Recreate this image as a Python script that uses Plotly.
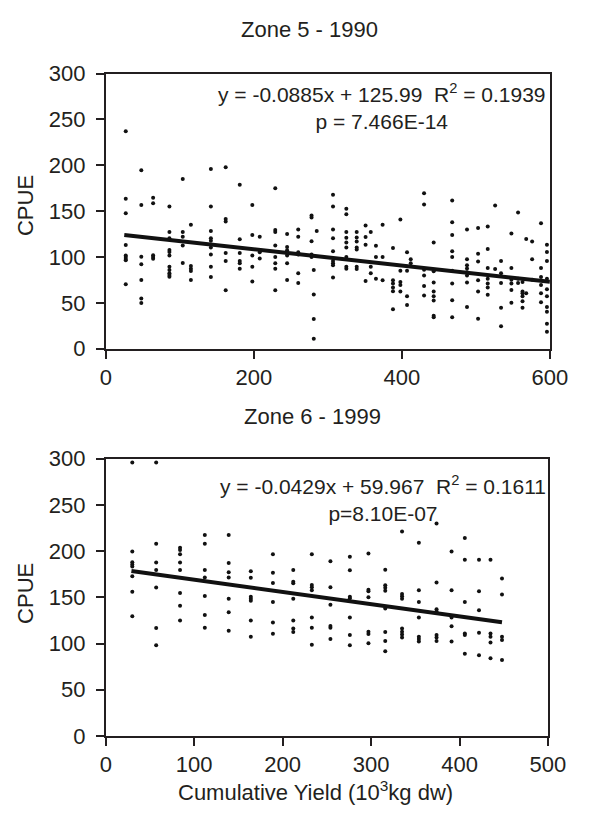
import plotly.graph_objects as go

# ---------------- data ----------------
zone5_col_x = [27, 48, 64, 86, 104, 115, 142, 162, 181, 198, 208, 229, 245, 260,
               278, 281, 285, 307, 325, 339, 351, 358, 365, 374, 388, 398, 407,
               412, 430, 443, 468, 488, 503, 516, 526, 534, 548, 557, 563, 568,
               576, 588, 596]
zone5_col_y = [
    [237.2, 163.4, 147.8, 113.0, 101.7, 99.9, 97.8, 96.4, 70.3],
    [194.6, 156.6, 100.3, 92.2, 75.0, 54.9, 50.0],
    [164.7, 158.7, 102.0, 99.9, 98.2],
    [155.2, 127.4, 120.4, 107.7, 105.6, 101.7, 89.3, 85.8, 82.4, 80.3, 78.5],
    [185.1, 127.4, 122.1, 112.6, 93.6],
    [135.2, 90.1, 87.2, 84.8, 75.0],
    [196.0, 155.2, 128.4, 120.4, 117.8, 110.5, 102.7, 89.3, 78.1],
    [197.8, 141.5, 138.6, 104.5, 95.6, 63.7],
    [178.8, 119.3, 104.5, 95.6, 93.2, 87.2],
    [156.6, 123.9, 101.7, 89.3, 73.2],
    [122.1, 105.2, 98.5],
    [174.9, 129.5, 127.4, 112.6, 99.9, 93.2, 87.2, 63.7],
    [125.2, 110.9, 107.3, 104.5, 101.7, 93.2, 75.0],
    [129.9, 122.1, 105.2, 102.7, 82.4, 71.8],
    [145.3, 143.2, 117.2, 102.7, 99.9],
    [85.8, 59.1, 32.3, 10.9],
    [128.4],
    [167.9, 155.2, 129.9, 120.4, 106.2, 95.6, 93.2, 91.1, 77.7],
    [152.7, 146.7, 127.4, 121.1, 115.8, 110.5, 99.9, 89.3, 87.2],
    [127.4, 121.4, 116.9, 110.5, 108.1, 89.3, 86.9],
    [134.5, 121.8, 113.4, 73.9],
    [127.4, 89.3, 82.3],
    [112.3, 99.9, 76.4],
    [135.2, 99.9, 74.6],
    [109.8, 74.6, 71.1, 66.9, 62.7, 43.1],
    [140.8, 85.1, 72.9, 69.4, 62.3],
    [105.2, 85.1, 57.1, 47.6],
    [97.5, 93.2],
    [169.6, 157.3, 86.2, 79.9, 68.3, 58.1],
    [115.8, 84.4, 72.2, 62.3, 57.1, 52.5, 36.1, 34.3],
    [161.5, 138.0, 123.9, 106.3, 99.9, 85.1, 71.1, 52.8, 34.3],
    [129.9, 97.5, 91.1, 87.6, 83.4, 79.9, 72.2, 45.5],
    [131.6, 103.5, 95.0, 74.6, 62.3, 32.6],
    [133.4, 108.8, 87.9, 76.4, 71.1, 66.9, 58.8],
    [156.2, 86.9],
    [95.7, 82.3, 71.8, 44.8, 24.5],
    [125.7, 87.9, 75.3, 71.1, 64.1, 50.1],
    [148.5, 76.4, 71.8],
    [72.9, 62.3, 60.6, 57.1, 51.8, 44.8],
    [119.7, 60.6],
    [116.9, 97.5, 75.3],
    [136.9, 87.9, 78.1, 69.4, 60.6, 50.8],
    [113.4, 105.6, 95.7, 76.4, 64.8, 57.1, 45.5, 40.3, 27.3, 18.5],
]
zone5_trend_x = [25, 600]
zone5_trend_y = [124, 73]

zone6_col_x = [30, 57, 84, 112, 139, 164, 189, 212, 233, 254, 276, 297, 316,
               335, 354, 374, 391, 406, 422, 435, 448]
zone6_col_y = [
    [296, 199.6, 188, 185.5, 183.4, 172.9, 156.1, 129.5],
    [296, 208, 187.6, 179.6, 160.7, 116.9, 98.3],
    [203.8, 201.3, 196.7, 187.6, 179.6, 154.7, 140.8, 125],
    [217.4, 208, 179.6, 171.5, 151.6, 130.9, 117.2],
    [217.4, 187.3, 177.1, 171.5, 148.4, 134, 113.8],
    [178.2, 171.2, 150.8, 148.4, 146.3, 125, 107.5],
    [196.7, 176.5, 165.5, 145, 122.9, 110.6],
    [179.6, 167, 165.3, 148.4, 125, 116.2, 112.4],
    [196.7, 163.4, 161, 157.6, 128.2, 117.2, 98.7],
    [189.1, 161, 142.1, 119, 117.2, 105],
    [193.9, 179.2, 150.8, 149.1, 128.2, 109.2, 98.3],
    [197.5, 158.2, 156.5, 150.2, 112.7, 110.3, 100.4],
    [179.9, 163.1, 160.3, 157.2, 137.9, 112.4, 102.9, 91.7],
    [221.2, 153.7, 151.2, 148.4, 116.2, 112.7, 109.9, 106.7],
    [209, 157.6, 145, 128.2, 107.5, 105, 102.2],
    [230, 166, 137.2, 134.8, 109.2, 106.7, 102.9],
    [199.6, 157.6, 128.2, 118.8, 102.2],
    [214.3, 190.8, 145, 111, 109.2, 88.9],
    [190.8, 156.5, 136.1, 111.7, 87.5],
    [190.8, 111, 107.5, 101.1, 84],
    [170.5, 153, 107.5, 104, 82.2],
]
zone6_trend_x = [29, 448]
zone6_trend_y = [178.6, 123]

zone5_xticks = [0, 200, 400, 600]
zone6_xticks = [0, 100, 200, 300, 400, 500]
y_ticks = [0, 50, 100, 150, 200, 250, 300]

titles = ["Zone 5 - 1990", "Zone 6 - 1999"]
eq5 = "y = -0.0885x + 125.99  R<sup>2</sup> = 0.1939<br>p = 7.466E-14"
eq6 = "y = -0.0429x + 59.967  R<sup>2</sup> = 0.1611<br>p=8.10E-07"
y_label = "CPUE"
x_label = "Cumulative Yield (10<sup>3</sup>kg dw)"


def flatten(cx, cy):
    xs, ys = [], []
    for x, col in zip(cx, cy):
        for v in col:
            xs.append(x)
            ys.append(v)
    return xs, ys


z5x, z5y = flatten(zone5_col_x, zone5_col_y)
z6x, z6y = flatten(zone6_col_x, zone6_col_y)

# ---------------- figure ----------------
W, H = 589, 823
FONT = "Liberation Sans, Arial, Helvetica, sans-serif"
TXT = "#231f20"
FS = 22


def px_x(p):
    return p / W


def px_y(p):
    return 1 - p / H


fig = go.Figure()
fig.add_trace(go.Scatter(x=z5x, y=z5y, mode="markers",
                         marker=dict(size=4, color="#111111"),
                         xaxis="x", yaxis="y", showlegend=False))
fig.add_trace(go.Scatter(x=zone5_trend_x, y=zone5_trend_y, mode="lines",
                         line=dict(color="#111111", width=4),
                         xaxis="x", yaxis="y", showlegend=False))
fig.add_trace(go.Scatter(x=z6x, y=z6y, mode="markers",
                         marker=dict(size=4, color="#111111"),
                         xaxis="x2", yaxis="y2", showlegend=False))
fig.add_trace(go.Scatter(x=zone6_trend_x, y=zone6_trend_y, mode="lines",
                         line=dict(color="#111111", width=4),
                         xaxis="x2", yaxis="y2", showlegend=False))

axis_common = dict(showline=True, linecolor="#231f20", linewidth=1.6,
                   mirror=True, ticks="outside", ticklen=8, tickwidth=1.5,
                   tickcolor="#231f20", showgrid=False, zeroline=False,
                   tickfont=dict(family=FONT, size=FS, color=TXT))

fig.update_layout(
    width=W, height=H,
    margin=dict(l=0, r=0, t=0, b=0),
    paper_bgcolor="white", plot_bgcolor="white",
    xaxis=dict(domain=[px_x(104), px_x(567)], range=[0, 600],
               tickvals=zone5_xticks, anchor="y", ticklabelstandoff=0,
               **axis_common),
    yaxis=dict(domain=[px_y(347.3), px_y(63.5)], range=[0, 300],
               tickvals=y_ticks, anchor="x", ticklabelstandoff=6,
               **axis_common),
    xaxis2=dict(domain=[px_x(104), px_x(565)], range=[0, 500],
                tickvals=zone6_xticks, anchor="y2", ticklabelstandoff=0,
                **axis_common),
    yaxis2=dict(domain=[px_y(746.7), px_y(460.7)], range=[0, 300],
                tickvals=y_ticks, anchor="x2", ticklabelstandoff=6,
                **axis_common),
)

ann_font = dict(family=FONT, size=FS, color=TXT)
eq_font = dict(family=FONT, size=21, color=TXT)
annotations = [
    dict(text=titles[0], x=px_x(316), y=px_y(18), xref="paper", yref="paper",
         showarrow=False, xanchor="center", yanchor="middle", font=ann_font),
    dict(text=titles[1], x=px_x(320), y=px_y(417), xref="paper", yref="paper",
         showarrow=False, xanchor="center", yanchor="middle", font=ann_font),
    dict(text=eq5, x=px_x(392), y=px_y(97.5), xref="paper", yref="paper",
         showarrow=False, xanchor="center", yanchor="middle", align="center",
         font=eq_font),
    dict(text=eq6, x=px_x(393), y=px_y(501.5), xref="paper", yref="paper",
         showarrow=False, xanchor="center", yanchor="middle", align="center",
         font=eq_font),
    dict(text=y_label, x=px_x(21), y=px_y(200), xref="paper", yref="paper",
         showarrow=False, textangle=-90, xanchor="center", yanchor="middle",
         font=ann_font),
    dict(text=y_label, x=px_x(21), y=px_y(600), xref="paper", yref="paper",
         showarrow=False, textangle=-90, xanchor="center", yanchor="middle",
         font=ann_font),
    dict(text=x_label, x=px_x(323), y=px_y(803), xref="paper", yref="paper",
         showarrow=False, xanchor="center", yanchor="middle", font=ann_font),
]
fig.update_layout(annotations=annotations)

fig.write_html("out.html",
               config={"displayModeBar": False},
               post_script="document.documentElement.style.margin='0px';"
                           "document.documentElement.style.padding='0px';"
                           "document.documentElement.style.overflow='hidden';"
                           "document.body.style.margin='0px';"
                           "document.body.style.padding='0px';"
                           "document.body.style.overflow='hidden';")
